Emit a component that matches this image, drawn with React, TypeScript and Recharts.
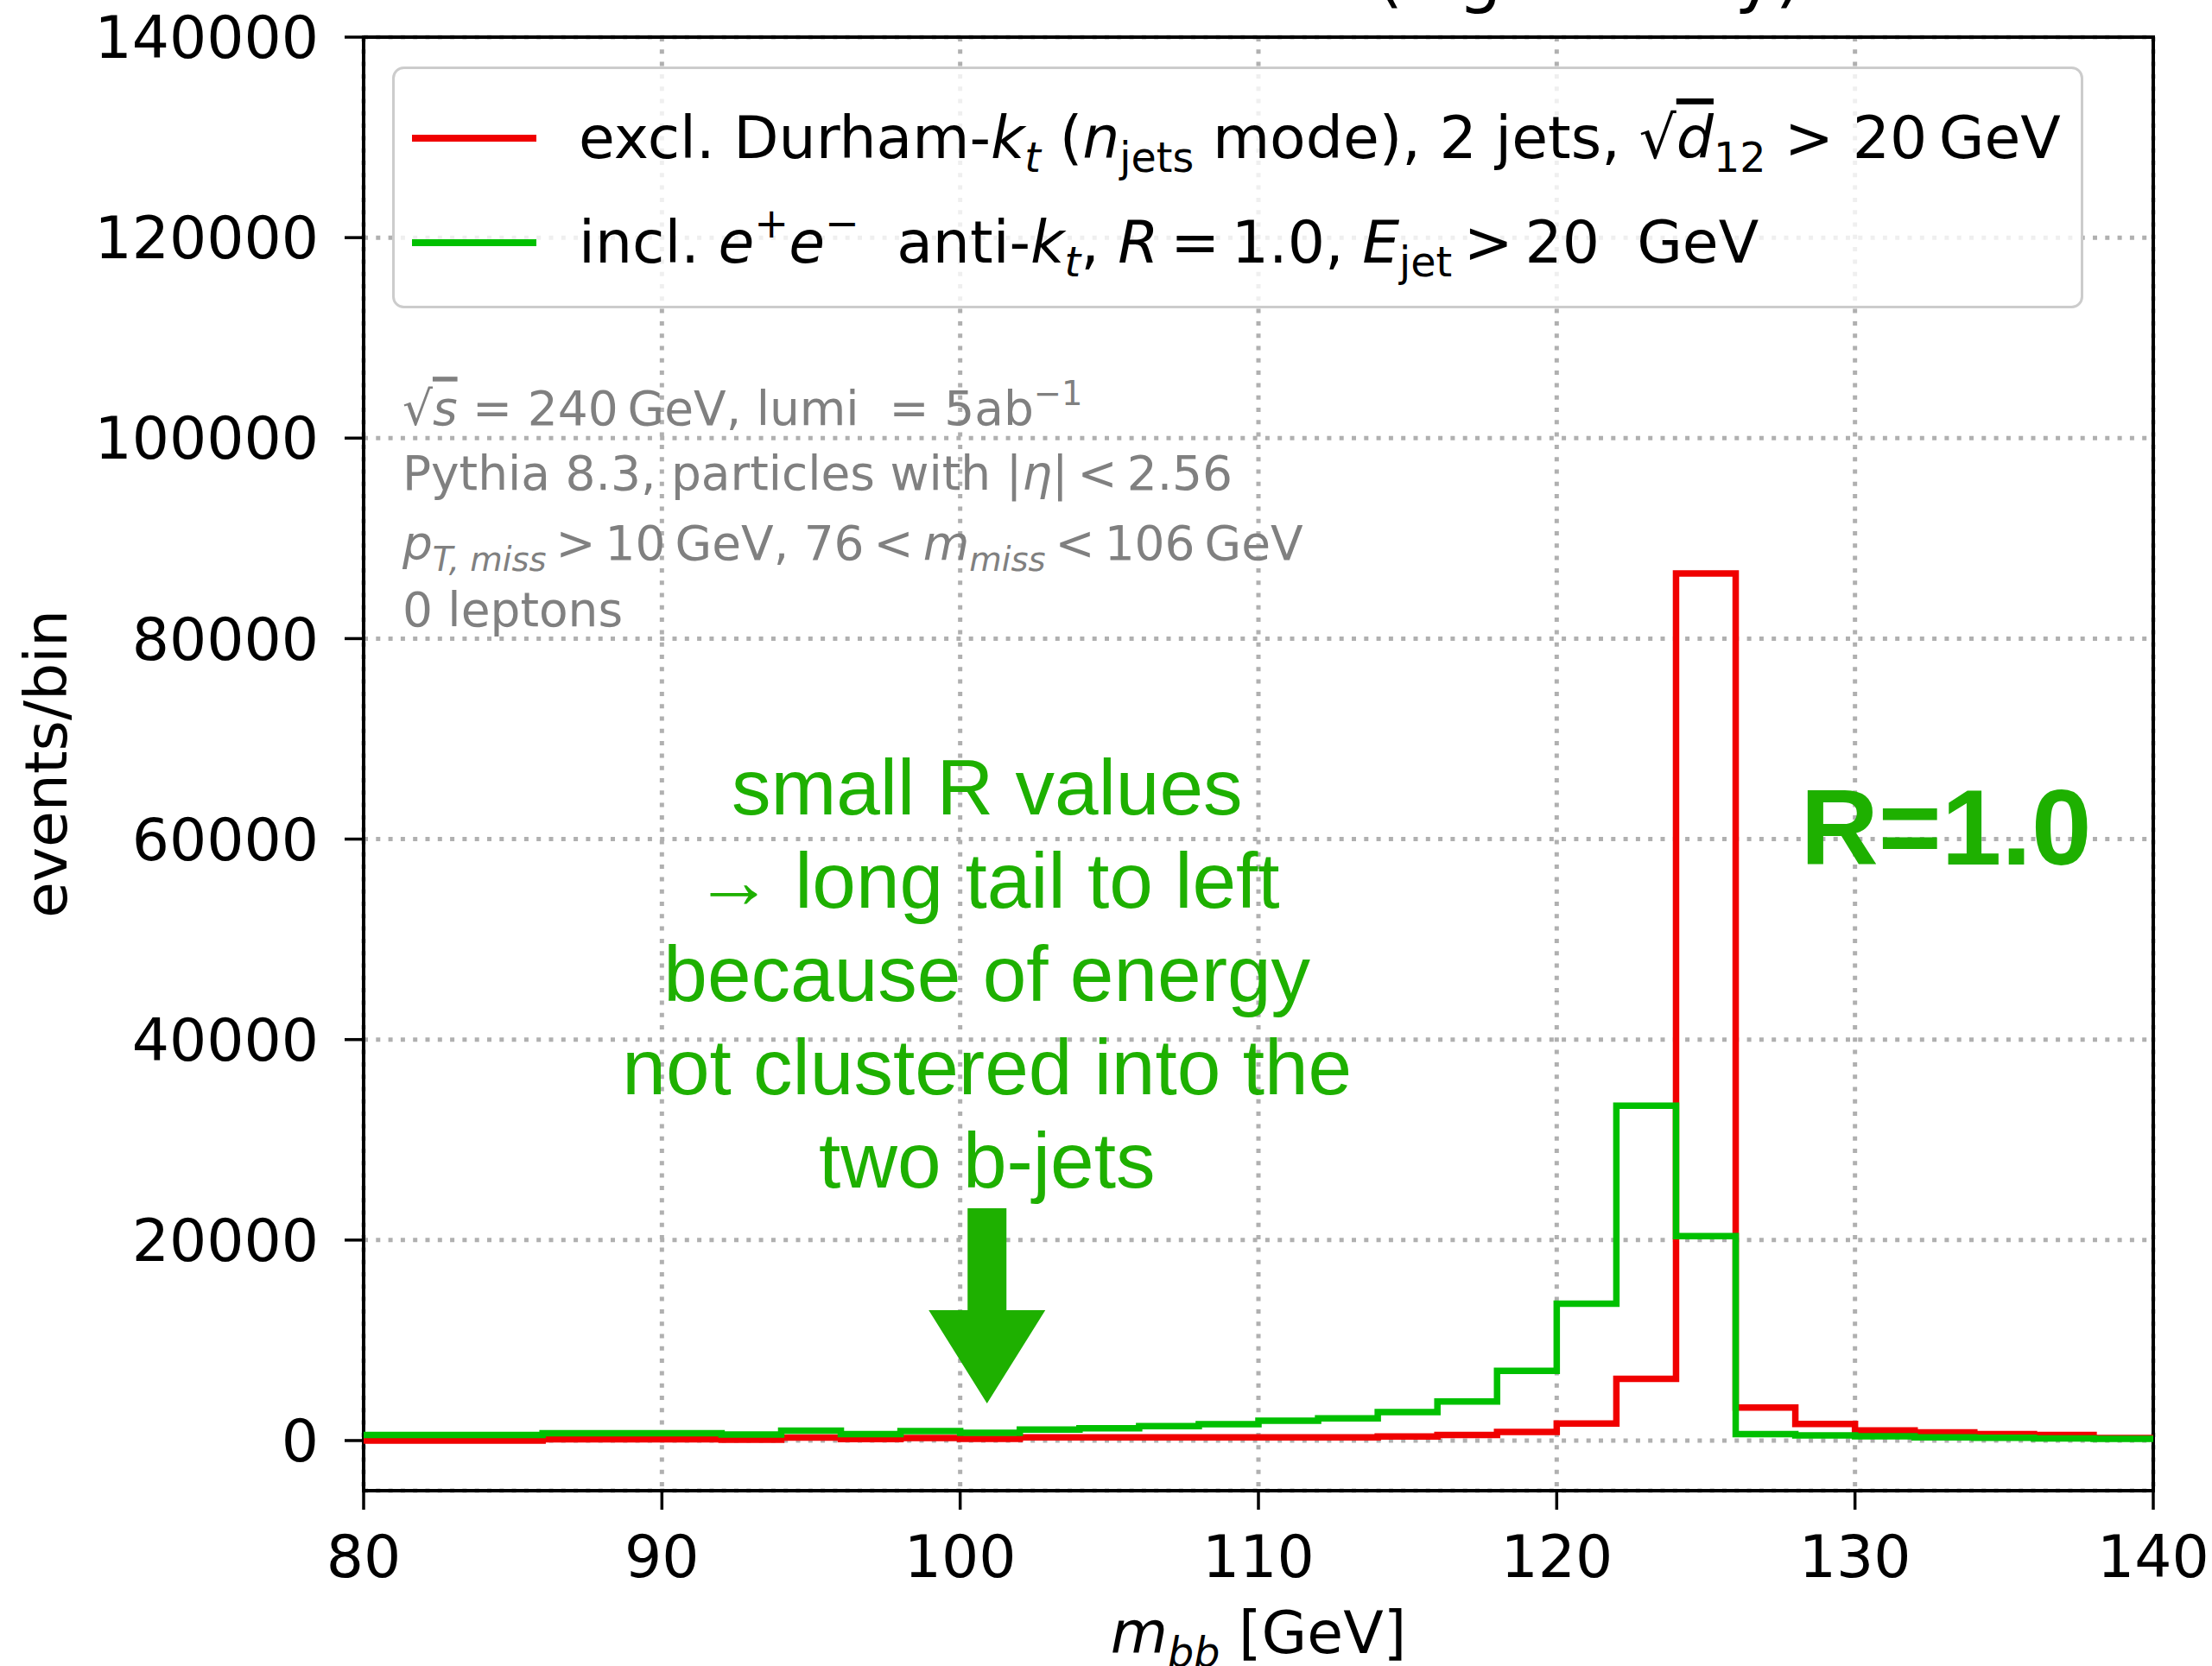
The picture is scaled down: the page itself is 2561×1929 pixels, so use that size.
import React from "react";
import {
  ComposedChart,
  Line,
  XAxis,
  YAxis,
  CartesianGrid,
  ReferenceArea,
  ReferenceDot,
  Legend,
} from "recharts";

// bin edges (GeV), 2 GeV bins
const binEdges = [
  80, 82, 84, 86, 88, 90, 92, 94, 96, 98, 100, 102, 104, 106, 108, 110,
  112, 114, 116, 118, 120, 122, 124, 126, 128, 130, 132, 134, 136, 138, 140,
];

// excl. Durham-kt, 2 jets
const durhamCounts = [
  0, 0, 0, 120, 120, 120, 80, 300, 150, 260, 180, 320, 320, 320, 320, 320,
  320, 400, 550, 850, 1700, 6150, 86500, 3300, 1650, 1000, 820, 650, 550, 250,
];

// incl. ee anti-kt R=1.0
const antiktCounts = [
  550, 550, 550, 720, 720, 720, 600, 980, 640, 940, 780, 1100, 1230, 1450, 1630,
  1970, 2220, 2850, 3900, 6950, 13650, 33400, 20400, 650, 520, 420, 330, 270, 220,
  170,
];

const xTicks = [80, 90, 100, 110, 120, 130, 140];
const yTicks = [0, 20000, 40000, 60000, 80000, 100000, 120000, 140000];

const noteLines = [
  "small R values",
  "\u2192 long tail to left",
  "because of energy",
  "not clustered into the",
  "two b-jets",
];

const data = binEdges.map((x, i) => ({
  x,
  durham: durhamCounts[Math.min(i, durhamCounts.length - 1)],
  antikt: antiktCounts[Math.min(i, antiktCounts.length - 1)],
}));

const RED = "#f00000";
const GREEN = "#00c000";
const NOTE_GREEN = "#1eb000";
const DEJAVU = "'DejaVu Sans', sans-serif";

type Seg = { t: string; it?: boolean; sub?: boolean; sup?: boolean; over?: boolean };

// matplotlib-ish mathtext as tspans
function mathSpans(list: Seg[], fs: number) {
  let cur = 0;
  return list.map((s, i) => {
    const target = s.sub ? 0.24 * fs : s.sup ? -0.42 * fs : 0;
    const dy = target - cur;
    cur = target;
    return (
      <tspan
        key={i}
        dy={dy}
        fontSize={s.sub || s.sup ? 0.7 * fs : fs}
        fontStyle={s.it ? "italic" : "normal"}
        textDecoration={s.over ? "overline" : undefined}
      >
        {s.t}
      </tspan>
    );
  });
}

const legendRow1: Seg[] = [
  { t: "excl. Durham-" },
  { t: "k", it: true },
  { t: "t", it: true, sub: true },
  { t: " (" },
  { t: "n", it: true },
  { t: "jets", sub: true },
  { t: " mode), 2 jets, " },
  { t: "\u221A" },
  { t: "d", it: true, over: true },
  { t: "12", sub: true },
  { t: " > 20\u2009GeV" },
];

const legendRow2: Seg[] = [
  { t: "incl. " },
  { t: "e", it: true },
  { t: "+", sup: true },
  { t: "e", it: true },
  { t: "\u2212", sup: true },
  { t: "  anti-" },
  { t: "k", it: true },
  { t: "t", it: true, sub: true },
  { t: ", " },
  { t: "R", it: true },
  { t: "\u2009=\u20091.0, " },
  { t: "E", it: true },
  { t: "jet", sub: true },
  { t: "\u2009>\u200920  GeV" },
];

const infoLines: Seg[][] = [
  [
    { t: "\u221A" },
    { t: "s", it: true, over: true },
    { t: " = 240\u2009GeV, lumi  = 5ab" },
    { t: "\u22121", sup: true },
  ],
  [{ t: "Pythia 8.3, particles with |" }, { t: "\u03B7", it: true }, { t: "|\u2009<\u20092.56" }],
  [
    { t: "p", it: true },
    { t: "T, miss", it: true, sub: true },
    { t: "\u2009>\u200910\u2009GeV, 76\u2009<\u2009" },
    { t: "m", it: true },
    { t: "miss", it: true, sub: true },
    { t: "\u2009<\u2009106\u2009GeV" },
  ],
  [{ t: "0 leptons" }],
];
const infoOffsets = [0, 75, 156, 233];

const renderLegend = () => (
  <svg width={1958} height={280} style={{ display: "block" }}>
    <rect x={1.5} y={1.5} width={1955} height={277} rx={12} fill="#fff" fillOpacity={0.8} stroke="#cccccc" strokeWidth={3} />
    <line x1={23} x2={167} y1={83} y2={83} stroke={RED} strokeWidth={8} />
    <line x1={23} x2={167} y1={204} y2={204} stroke={GREEN} strokeWidth={8} />
    <text x={216} y={106} fontSize={68} fontFamily={DEJAVU} fill="#000" style={{ whiteSpace: "pre" }}>
      {mathSpans(legendRow1, 68)}
    </text>
    <text x={216} y={227} fontSize={68} fontFamily={DEJAVU} fill="#000" style={{ whiteSpace: "pre" }}>
      {mathSpans(legendRow2, 68)}
    </text>
  </svg>
);

export default function App() {
  return (
    <div style={{ position: "absolute", left: 0, top: 0, width: 2561, height: 1929, background: "#fff" }}>
      <svg
        width={2561}
        height={40}
        style={{ position: "absolute", left: 0, top: 0, overflow: "visible", zIndex: 2, pointerEvents: "none" }}
      >
        <text x={1593} y={-1} fontSize={80} fontFamily={DEJAVU} fill="#000">
          (signal only)
        </text>
      </svg>
      <ComposedChart
        width={2561}
        height={1929}
        data={data}
        margin={{ top: 43, right: 68, bottom: 3, left: 121 }}
      >
        <CartesianGrid stroke="#b0b0b0" strokeWidth={5} strokeDasharray="5 9.3" />
        <XAxis
          dataKey="x"
          type="number"
          domain={[80, 140]}
          ticks={xTicks}
          height={200}
          axisLine={false}
          tickLine={{ stroke: "#000", strokeWidth: 3.5 }}
          tickSize={22}
          tickMargin={30}
          tick={{ fill: "#000", fontSize: 68, fontFamily: DEJAVU }}
          label={{
            content: ({ viewBox }: any) => (
              <text
                x={viewBox.x + viewBox.width / 2}
                y={viewBox.y + 188}
                textAnchor="middle"
                fontSize={68}
                fontFamily={DEJAVU}
                fill="#000"
                style={{ whiteSpace: "pre" }}
              >
                {mathSpans([{ t: "m", it: true }, { t: "bb", it: true, sub: true }, { t: " [GeV]" }], 68)}
              </text>
            ),
          }}
        />
        <YAxis
          type="number"
          domain={[-5000, 140000]}
          ticks={yTicks}
          width={300}
          axisLine={false}
          tickLine={{ stroke: "#000", strokeWidth: 3.5 }}
          tickSize={22}
          tickMargin={30}
          tick={{ fill: "#000", fontSize: 68, fontFamily: DEJAVU }}
          tickFormatter={(v) => String(v)}
          label={{
            content: ({ viewBox }: any) => {
              const x = viewBox.x - 44;
              const y = viewBox.y + viewBox.height / 2;
              return (
                <text
                  x={x}
                  y={y}
                  transform={`rotate(-90, ${x}, ${y})`}
                  textAnchor="middle"
                  fontSize={68}
                  fontFamily={DEJAVU}
                  fill="#000"
                >
                  events/bin
                </text>
              );
            },
          }}
        />
        <Legend
          layout="horizontal"
          verticalAlign="middle"
          align="center"
          content={renderLegend}
          wrapperStyle={{ left: 454, top: 77, width: 1958, height: 280 }}
        />
        <Line
          type="stepAfter"
          dataKey="durham"
          stroke={RED}
          strokeWidth={7.5}
          dot={false}
          isAnimationActive={false}
          strokeLinejoin="miter"
        />
        <Line
          type="stepAfter"
          dataKey="antikt"
          stroke={GREEN}
          strokeWidth={7.5}
          dot={false}
          isAnimationActive={false}
          strokeLinejoin="miter"
        />
        <ReferenceDot
          x={81.3}
          y={101300}
          r={0}
          shape={(p: any) => (
            <g>
              {infoLines.map((segs, i) => (
                <text
                  key={i}
                  x={p.cx}
                  y={p.cy + infoOffsets[i]}
                  fontSize={55}
                  fontFamily={DEJAVU}
                  fill="#808080"
                  style={{ whiteSpace: "pre" }}
                >
                  {mathSpans(segs, 55)}
                </text>
              ))}
            </g>
          )}
        />
        <ReferenceDot
          x={100.9}
          y={62500}
          r={0}
          shape={(p: any) => (
            <text
              x={p.cx}
              y={p.cy}
              textAnchor="middle"
              fontSize={91}
              fontFamily="'Liberation Sans', Arial, sans-serif"
              fill={NOTE_GREEN}
            >
              {noteLines.map((l, i) => (
                <tspan key={i} x={p.cx} dy={i === 0 ? 0 : 108}>
                  {l}
                </tspan>
              ))}
            </text>
          )}
        />
        <ReferenceDot
          x={100.9}
          y={3700}
          r={0}
          shape={(p: any) => {
            const { cx, cy } = p;
            const pts = [
              [cx - 22.5, cy - 226],
              [cx + 22.5, cy - 226],
              [cx + 22.5, cy - 108],
              [cx + 67.5, cy - 108],
              [cx, cy],
              [cx - 67.5, cy - 108],
              [cx - 22.5, cy - 108],
            ]
              .map((q) => q.join(","))
              .join(" ");
            return <polygon points={pts} fill={NOTE_GREEN} />;
          }}
        />
        <ReferenceDot
          x={133.05}
          y={57460}
          r={0}
          shape={(p: any) => (
            <text
              x={p.cx}
              y={p.cy}
              textAnchor="middle"
              fontSize={125}
              fontWeight="bold"
              fontFamily="'Liberation Sans', Arial, sans-serif"
              fill={NOTE_GREEN}
            >
              R=1.0
            </text>
          )}
        />
        <ReferenceArea
          x1={80}
          x2={140}
          y1={-5000}
          y2={140000}
          fill="none"
          fillOpacity={0}
          stroke="#000"
          strokeWidth={4}
        />
      </ComposedChart>
    </div>
  );
}
